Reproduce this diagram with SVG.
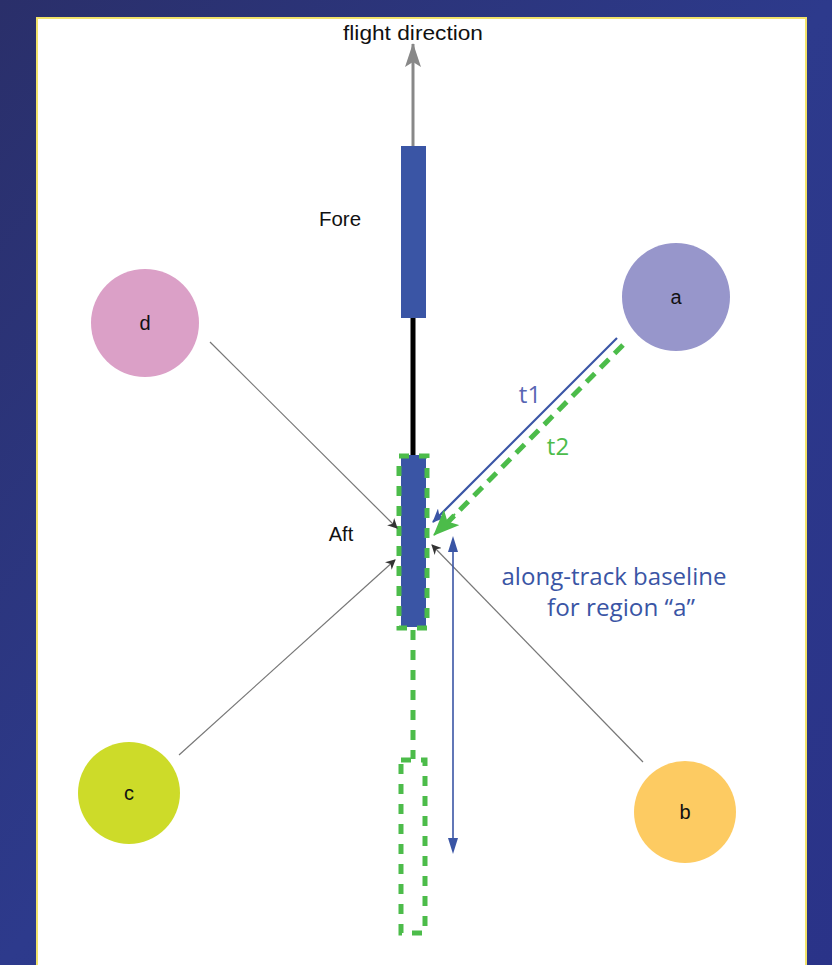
<svg xmlns="http://www.w3.org/2000/svg" width="832" height="965" viewBox="0 0 832 965">
<defs>
<linearGradient id="bg" x1="0" y1="0" x2="1" y2="1">
<stop offset="0" stop-color="#2a2f6a"/>
<stop offset="0.5" stop-color="#2d3a8c"/>
<stop offset="1" stop-color="#2a3388"/>
</linearGradient>
<marker id="greyHead" markerWidth="10" markerHeight="10" refX="9" refY="5" orient="auto" markerUnits="userSpaceOnUse">
<path d="M0,0 L10,5 L0,10 L3,5 z" fill="#333"/>
</marker>
<marker id="blueHead" markerWidth="14" markerHeight="12" refX="13" refY="6" orient="auto" markerUnits="userSpaceOnUse">
<path d="M0,0 L14,6 L0,12 L4,6 z" fill="#3a55a5"/>
</marker>
<marker id="greenHead" markerWidth="26" markerHeight="22" refX="25" refY="11" orient="auto" markerUnits="userSpaceOnUse">
<path d="M0,0 L26,11 L0,22 L6,11 z" fill="#4cbc4a"/>
</marker>
<marker id="flightHead" markerWidth="24" markerHeight="16" refX="23" refY="8" orient="auto" markerUnits="userSpaceOnUse">
<path d="M0,0 L24,8 L0,16 L5,8 z" fill="#888"/>
</marker>
</defs>
<style>
.lbl{font-family:"Liberation Sans",Arial,sans-serif;font-size:20px;fill:#111;text-anchor:middle}
.blue{font-family:"Open Sans","Noto Sans",sans-serif;font-size:23px;fill:#3a55a5;text-anchor:middle}
.thin{stroke:#777;stroke-width:1.2;fill:none}
.gdash{stroke:#4cbc4a;stroke-width:5;fill:none;stroke-dasharray:10,10}
.sensor{fill:#3a55a5}
</style>
<rect x="0" y="0" width="832" height="965" fill="url(#bg)"/>
<rect x="37" y="18" width="769" height="960" fill="#ffffff" stroke="#f2e36a" stroke-width="2"/>

<g id="flight-direction">
<line x1="413" y1="146" x2="413" y2="44" stroke="#888" stroke-width="3" marker-end="url(#flightHead)"/>
<text x="413" y="40" class="lbl" style="font-size:21px" textLength="140" lengthAdjust="spacingAndGlyphs">flight direction</text>
</g>

<g id="fore">
<line x1="413" y1="318" x2="413" y2="456" stroke="#000" stroke-width="5"/>
<rect x="401" y="146" width="25" height="172" class="sensor"/>
<text x="340" y="226" class="lbl" textLength="42" lengthAdjust="spacingAndGlyphs">Fore</text>
</g>

<g id="aft">
<rect x="401" y="455" width="25" height="172" class="sensor"/>
<rect x="399" y="456" width="28" height="172" class="gdash"/>
<text x="341" y="541" class="lbl">Aft</text>
</g>

<g id="aft-future">
<line x1="413" y1="630" x2="413" y2="759" class="gdash"/>
<rect x="401" y="760" width="24" height="173" class="gdash"/>
</g>

<g id="region-d">
<circle cx="145" cy="323" r="54" fill="#dba0c7"/>
<text x="145" y="330" class="lbl">d</text>
</g>
<g id="region-a">
<circle cx="676" cy="297" r="54" fill="#9796cb"/>
<text x="676" y="304" class="lbl">a</text>
</g>
<g id="region-c">
<circle cx="129" cy="793" r="51" fill="#cddb29"/>
<text x="129" y="800" class="lbl">c</text>
</g>
<g id="region-b">
<circle cx="685" cy="812" r="51" fill="#fdcb62"/>
<text x="685" y="819" class="lbl">b</text>
</g>

<g id="connectors">
<line x1="210" y1="342" x2="397" y2="528" class="thin" marker-end="url(#greyHead)"/>
<line x1="179" y1="755" x2="395" y2="560" class="thin" marker-end="url(#greyHead)"/>
<line x1="643" y1="762" x2="432" y2="545" class="thin" marker-end="url(#greyHead)"/>
<line x1="617" y1="338" x2="433" y2="522" stroke="#3a55a5" stroke-width="2.2" marker-end="url(#blueHead)"/>
<line x1="623" y1="345" x2="440" y2="530" stroke="#4cbc4a" stroke-width="5" stroke-dasharray="12,8"/>
<line x1="455" y1="514" x2="434" y2="535" stroke="#4cbc4a" stroke-width="2" marker-end="url(#greenHead)"/>
<line x1="453" y1="545" x2="453" y2="845" stroke="#3a55a5" stroke-width="1.6"/>
<path d="M453,536 L458,552 L448,552 z" fill="#3a55a5"/>
<path d="M453,854 L458,838 L448,838 z" fill="#3a55a5"/>
<text x="530" y="403" class="blue" style="font-size:24px;fill:#5866b3">t1</text>
<text x="558" y="455" class="blue" style="font-size:24px;fill:#4cbc4a">t2</text>
<text x="614" y="585" class="blue" textLength="225" lengthAdjust="spacingAndGlyphs">along-track baseline</text>
<text x="621" y="616" class="blue" textLength="148" lengthAdjust="spacingAndGlyphs">for region “a”</text>
</g>
</svg>
